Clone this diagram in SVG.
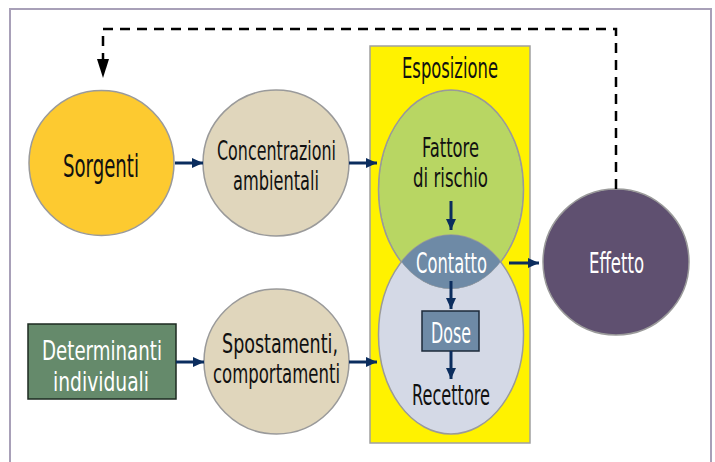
<svg xmlns="http://www.w3.org/2000/svg" width="715" height="462" viewBox="0 0 715 462">
<defs>
<marker id="nav" markerWidth="12" markerHeight="12" viewBox="0 0 12 12" refX="11" refY="6" orient="auto" markerUnits="userSpaceOnUse">
<path d="M0,1 L11,6 L0,11 Z" fill="#0b2d5e"/>
</marker>
<clipPath id="topEll"><ellipse cx="451" cy="189.5" rx="72.5" ry="99.5"/></clipPath>
</defs>
<style>
text{font-family:"Liberation Sans Narrow","DejaVu Sans Condensed","Liberation Sans",sans-serif;font-size:29px;text-anchor:middle;fill:#111}
.w{fill:#fff}
.big{font-size:32px}
.two{font-size:27px}
.ar{stroke:#0b2d5e;stroke-width:3;fill:none;marker-end:url(#nav)}
.node{stroke:#9a9a9a;stroke-width:1.5}
</style>
<rect x="0" y="0" width="715" height="462" fill="#fff"/>
<rect x="10" y="9" width="701" height="470" fill="#fff" stroke="#a8a0b8" stroke-width="2"/>

<g id="esposizione">
<rect x="370" y="46" width="160" height="397" fill="#fff200" stroke="#a0a0a0" stroke-width="1.5"/>
<text x="450" y="78" textLength="96" lengthAdjust="spacingAndGlyphs">Esposizione</text>
</g>

<g id="sorgenti">
<circle cx="101.5" cy="163" r="72.5" fill="#fdca30" class="node"/>
<text class="big" x="101" y="177" textLength="76" lengthAdjust="spacingAndGlyphs">Sorgenti</text>
</g>

<g id="concentrazioni">
<circle cx="276" cy="163" r="73" fill="#e0d6bc" class="node"/>
<text class="two" x="276.5" y="160" textLength="119" lengthAdjust="spacingAndGlyphs">Concentrazioni</text>
<text class="two" x="276" y="190" textLength="86" lengthAdjust="spacingAndGlyphs">ambientali</text>
</g>

<g id="determinanti">
<rect x="28" y="324" width="148" height="75" fill="#658a6b" stroke="#1c2a20" stroke-width="1.5"/>
<text class="w two" x="102" y="360" textLength="120" lengthAdjust="spacingAndGlyphs">Determinanti</text>
<text class="w two" x="101" y="391" textLength="96" lengthAdjust="spacingAndGlyphs">individuali</text>
</g>

<g id="spostamenti">
<circle cx="276.5" cy="361.5" r="72.5" fill="#e0d6bc" class="node"/>
<text class="two" x="280" y="353" textLength="116" lengthAdjust="spacingAndGlyphs">Spostamenti,</text>
<text class="two" x="276.5" y="383" textLength="127" lengthAdjust="spacingAndGlyphs">comportamenti</text>
</g>

<g id="fattore">
<ellipse cx="451" cy="189.5" rx="72.5" ry="99.5" fill="#b8d663" class="node"/>
<text class="two" x="450.5" y="157" textLength="57" lengthAdjust="spacingAndGlyphs">Fattore</text>
<text class="two" x="450.5" y="187" textLength="75" lengthAdjust="spacingAndGlyphs">di rischio</text>
</g>

<g id="recettore">
<ellipse cx="451" cy="334.5" rx="72.5" ry="99.5" fill="#d4d9e6" class="node"/>
<text x="451" y="405" textLength="78" lengthAdjust="spacingAndGlyphs">Recettore</text>
</g>

<g id="contatto">
<ellipse cx="451" cy="334.5" rx="72.5" ry="99.5" fill="#6e8aa6" clip-path="url(#topEll)"/>
<ellipse cx="451" cy="189.5" rx="72.5" ry="99.5" fill="none" stroke="#9a9a9a" stroke-width="1" clip-path="url(#topEll)"/>
<text class="w" x="451.5" y="273" textLength="71" lengthAdjust="spacingAndGlyphs">Contatto</text>
</g>

<g id="dose">
<rect x="422" y="311" width="57" height="40" fill="#6e8aa6" stroke="#1c2a3a" stroke-width="1.5"/>
<text class="w" x="451" y="343" textLength="40" lengthAdjust="spacingAndGlyphs">Dose</text>
</g>

<g id="effetto">
<circle cx="616" cy="262" r="73" fill="#5f5070" class="node"/>
<text class="w" x="616.5" y="273" textLength="55" lengthAdjust="spacingAndGlyphs">Effetto</text>
</g>

<g id="connectors">
<line class="ar" x1="175" y1="163" x2="203" y2="163"/>
<line class="ar" x1="349" y1="163" x2="377" y2="163"/>
<line class="ar" x1="176" y1="362" x2="204" y2="362"/>
<line class="ar" x1="349" y1="362" x2="377" y2="362"/>
<line class="ar" x1="451" y1="201" x2="451" y2="230"/>
<line class="ar" x1="451" y1="281" x2="451" y2="309"/>
<line class="ar" x1="451" y1="351" x2="451" y2="379"/>
<line class="ar" x1="509" y1="263" x2="539" y2="263"/>
<path d="M616,189 V29 H103 V60" fill="none" stroke="#000" stroke-width="2.5" stroke-dasharray="10,7"/>
<path d="M97,59 L109,59 L103,78 Z" fill="#000"/>
</g>
</svg>
